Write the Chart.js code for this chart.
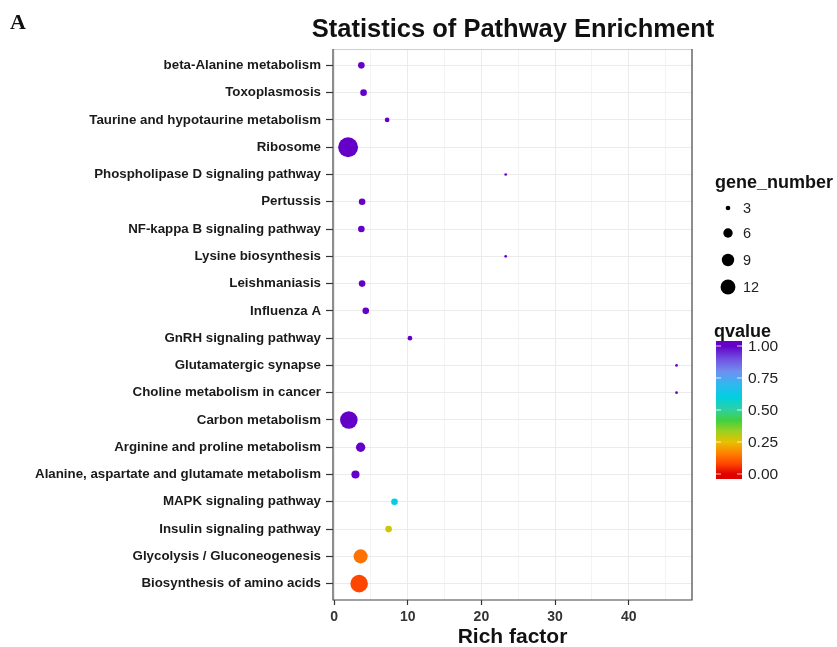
<!DOCTYPE html>
<html>
<head>
<meta charset="utf-8">
<title>Statistics of Pathway Enrichment</title>
<script src="https://cdn.jsdelivr.net/npm/chart.js@4/dist/chart.umd.min.js"></script>
<style>
  html, body { margin: 0; padding: 0; background: #fff; }
  #wrap { width: 837px; height: 647px; position: relative; }
</style>
</head>
<body>
<div id="wrap"><canvas id="chart"></canvas></div>
<script>
// ---- Data (top to bottom as drawn) ----
const categories = [
  'beta-Alanine metabolism',
  'Toxoplasmosis',
  'Taurine and hypotaurine metabolism',
  'Ribosome',
  'Phospholipase D signaling pathway',
  'Pertussis',
  'NF-kappa B signaling pathway',
  'Lysine biosynthesis',
  'Leishmaniasis',
  'Influenza A',
  'GnRH signaling pathway',
  'Glutamatergic synapse',
  'Choline metabolism in cancer',
  'Carbon metabolism',
  'Arginine and proline metabolism',
  'Alanine, aspartate and glutamate metabolism',
  'MAPK signaling pathway',
  'Insulin signaling pathway',
  'Glycolysis / Gluconeogenesis',
  'Biosynthesis of amino acids'
];
const richFactor = [3.7, 4.0, 7.2, 1.9, 23.3, 3.8, 3.7, 23.3, 3.8, 4.3,
                    10.3, 46.5, 46.5, 2.0, 3.6, 2.9, 8.2, 7.4, 3.6, 3.4];
const geneNumber = [4, 4, 3, 20, 2, 4, 4, 2, 4, 4,
                    3, 2, 2, 16, 6, 5, 4, 4, 11, 16];
const qvalue     = [1.0, 1.0, 1.0, 1.0, 1.0, 1.0, 1.0, 1.0, 1.0, 1.0,
                    1.0, 1.0, 1.0, 1.0, 1.0, 1.0, 0.6, 0.28, 0.14, 0.08];

const xTicks = [0, 10, 20, 30, 40];
const sizeBreaks = [3, 6, 9, 12];
const qTicks = [0, 0.25, 0.5, 0.75, 1];

// ---- Helpers ----
const FONT = '"Liberation Sans", Arial, Helvetica, sans-serif';
const colorStops = [
  [0.00, [224, 0, 0]],
  [0.08, [255, 70, 0]],
  [0.16, [255, 128, 0]],
  [0.25, [232, 192, 0]],
  [0.33, [160, 208, 32]],
  [0.42, [64, 208, 64]],
  [0.50, [48, 208, 160]],
  [0.60, [0, 208, 224]],
  [0.70, [48, 184, 240]],
  [0.80, [112, 144, 240]],
  [0.90, [112, 80, 224]],
  [1.00, [100, 0, 200]]
];
function qColor(q) {
  for (let i = 1; i < colorStops.length; i++) {
    const [p1, c1] = colorStops[i];
    const [p0, c0] = colorStops[i - 1];
    if (q <= p1) {
      const t = (q - p0) / (p1 - p0);
      const c = c0.map((v, k) => Math.round(v + (c1[k] - v) * t));
      return `rgb(${c[0]},${c[1]},${c[2]})`;
    }
  }
  const c = colorStops[colorStops.length - 1][1];
  return `rgb(${c[0]},${c[1]},${c[2]})`;
}
function sizeFor(n) {
  return Math.sqrt(Math.max(5.5 * n - 11, 1.8));
}

const N = categories.length;
const points = categories.map((c, i) => ({ x: richFactor[i], y: N - i, r: sizeFor(geneNumber[i]) }));

// ---- Extras: title, panel border, legends ----
const extras = {
  id: 'extras',
  afterDraw(chart) {
    const ctx = chart.ctx;
    const a = chart.chartArea;
    ctx.save();

    // panel border
    ctx.lineWidth = 1.2;
    ctx.strokeStyle = '#cfcfcf';
    ctx.beginPath(); ctx.moveTo(a.left, a.top + 0.5); ctx.lineTo(a.right, a.top + 0.5); ctx.stroke();
    ctx.strokeStyle = '#444';
    ctx.beginPath();
    ctx.moveTo(a.left, a.top); ctx.lineTo(a.left, a.bottom); ctx.lineTo(a.right, a.bottom); ctx.lineTo(a.right, a.top);
    ctx.stroke();

    // panel letter + title
    ctx.fillStyle = '#111';
    ctx.textBaseline = 'alphabetic';
    ctx.textAlign = 'left';
    ctx.font = 'bold 22px "Liberation Serif", "DejaVu Serif", serif';
    ctx.fillText('A', 10, 29);
    ctx.textAlign = 'center';
    ctx.font = 'bold 25.5px ' + FONT;
    ctx.fillText('Statistics of Pathway Enrichment', 513, 37);

    // size legend
    ctx.textAlign = 'left';
    ctx.font = 'bold 18px ' + FONT;
    ctx.fillText('gene_number', 715, 188);
    const itemY = [208, 233, 260, 287];
    ctx.font = '14.5px ' + FONT;
    ctx.textBaseline = 'middle';
    sizeBreaks.forEach((n, i) => {
      ctx.fillStyle = '#000';
      ctx.beginPath();
      ctx.arc(728, itemY[i], sizeFor(n), 0, Math.PI * 2);
      ctx.fill();
      ctx.fillStyle = '#222';
      ctx.fillText(String(n), 743, itemY[i] + 1);
    });

    // colour bar legend
    ctx.textBaseline = 'alphabetic';
    ctx.fillStyle = '#111';
    ctx.font = 'bold 18px ' + FONT;
    ctx.fillText('qvalue', 714, 337);
    const barX = 716, barW = 26, barTop = 341, barBot = 479;
    const y1 = 346, y0 = 474; // positions of 1.00 and 0.00
    const grad = ctx.createLinearGradient(0, y0, 0, y1);
    colorStops.forEach(([p]) => grad.addColorStop(p, qColor(p)));
    ctx.fillStyle = grad;
    ctx.fillRect(barX, barTop, barW, barBot - barTop);
    ctx.font = '15.5px ' + FONT;
    ctx.textBaseline = 'middle';
    qTicks.forEach(q => {
      const y = y0 + (y1 - y0) * q;
      ctx.strokeStyle = 'rgba(255,255,255,0.8)';
      ctx.lineWidth = 1;
      ctx.beginPath(); ctx.moveTo(barX, y); ctx.lineTo(barX + 5, y); ctx.moveTo(barX + barW - 5, y); ctx.lineTo(barX + barW, y); ctx.stroke();
      ctx.fillStyle = '#222';
      ctx.fillText(q.toFixed(2), 748, y + 1);
    });
    ctx.restore();
  }
};

new Chart(document.getElementById('chart'), {
  type: 'bubble',
  data: {
    datasets: [{
      data: points,
      backgroundColor: ctx => qColor(qvalue[ctx.dataIndex] ?? 1),
      borderWidth: 0,
      hoverBorderWidth: 0
    }]
  },
  options: {
    responsive: true,
    maintainAspectRatio: false,
    animation: false,
    events: [],
    layout: { padding: { left: 0, right: 145, top: 49, bottom: 0 } },
    plugins: { legend: { display: false }, tooltip: { enabled: false } },
    scales: {
      x: {
        type: 'linear',
        min: -0.15,
        max: 48.6,
        afterBuildTicks: scale => {
          const t = [];
          for (let v = 0; v <= 45; v += 5) t.push({ value: v });
          scale.ticks = t;
        },
        ticks: {
          callback: v => xTicks.includes(v) ? String(v) : '',
          font: { family: FONT, size: 14, weight: 'bold' },
          color: '#333',
          padding: 4,
          maxRotation: 0,
          autoSkip: false
        },
        grid: {
          color: '#ebebeb',
          lineWidth: ctx => (ctx.tick && ctx.tick.value % 10 === 0) ? 1 : 0.6,
          tickColor: ctx => (ctx.tick && ctx.tick.value % 10 === 0) ? '#333' : 'rgba(0,0,0,0)',
          tickLength: 5,
          tickWidth: 1.2
        },
        border: { display: false },
        title: {
          display: true,
          text: 'Rich factor',
          font: { family: FONT, size: 21, weight: 'bold' },
          color: '#111',
          padding: { top: 0, bottom: -3 }
        },
        afterFit: scale => { scale.height = 47; }
      },
      y: {
        type: 'linear',
        min: 0.4,
        max: N + 0.6,
        afterBuildTicks: scale => {
          scale.ticks = categories.map((c, i) => ({ value: i + 1 }));
        },
        ticks: {
          callback: v => categories[N - v],
          font: { family: FONT, size: 13.3, weight: 'bold' },
          color: '#1a1a1a',
          padding: 5,
          autoSkip: false
        },
        grid: {
          color: '#ebebeb',
          tickColor: '#333',
          tickLength: 7,
          tickWidth: 1.2
        },
        border: { display: false },
        afterFit: scale => { scale.width = 333; }
      }
    }
  },
  plugins: [extras]
});
</script>
</body>
</html>
